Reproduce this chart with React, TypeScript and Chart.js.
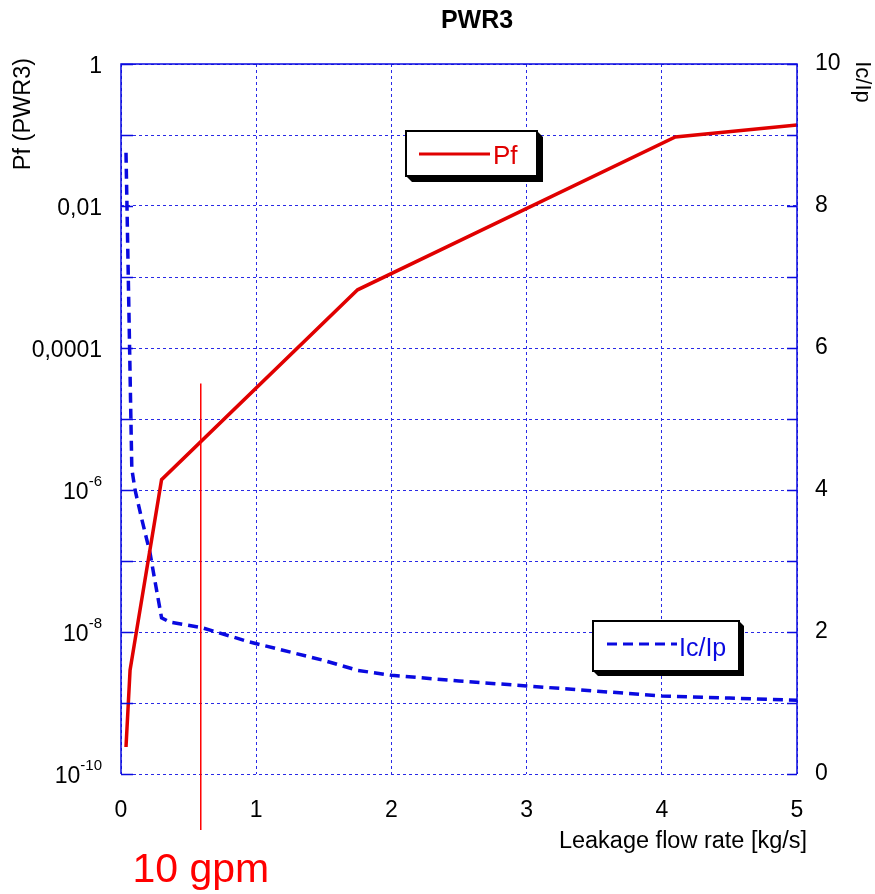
import React, { useEffect, useRef } from "react";
import { Chart, registerables } from "chart.js";

Chart.register(...registerables);

// ---------- data ----------
const chartTitle = "PWR3";
const xTitle = "Leakage flow rate [kg/s]";
const leftTitle = "Pf (PWR3)";
const rightTitle = "Ic/Ip";
const pfLabel = "Pf";
const icLabel = "Ic/Ip";
const gpmLabel = "10 gpm";

const pfFlow = [0.037, 0.067, 0.3, 1.75, 4.1, 5.0];
const pfValues = [2.4e-10, 2.9e-9, 1.4e-6, 6.6e-4, 0.094, 0.138];

const icFlow = [0.037, 0.08, 0.104, 0.155, 0.215, 0.25, 0.3, 0.36, 0.6, 0.95, 1.5, 1.75, 2.0, 2.5, 3.0, 3.5, 4.0, 4.5, 5.0];
const icValues = [8.75, 4.3, 4.0, 3.58, 3.11, 2.73, 2.2, 2.14, 2.06, 1.86, 1.6, 1.46, 1.39, 1.31, 1.24, 1.17, 1.1, 1.07, 1.04];

const gpmFlow = 0.59;
const gpmTop = 5.5; // on the Ic/Ip axis

const xTickValues = [0, 1, 2, 3, 4, 5];
const pfExponents = [-10, -9, -8, -7, -6, -5, -4, -3, -2, -1, 0];
const pfTickExponents = [0, -2, -4, -6, -8, -10];
const pfTickLabels = ["1", "0,01", "0,0001", "10^-6", "10^-8", "10^-10"];
const icTickValues = [0, 2, 4, 6, 8, 10];

// ---------- styles ----------
const FONT = "'Liberation Sans', Arial, Helvetica, sans-serif";
const RED = "#e00000";
const BLUE = "#0a0ae0";
const GRID = "#2a2ae6";

function legendBox(ctx: CanvasRenderingContext2D, x0: number, y0: number, x1: number, y1: number, d: number) {
  ctx.save();
  ctx.fillStyle = "#000";
  ctx.beginPath();
  ctx.moveTo(x0, y1);
  ctx.lineTo(x0 + d, y1 + d);
  ctx.lineTo(x1 + d, y1 + d);
  ctx.lineTo(x1 + d, y0 + d);
  ctx.lineTo(x1, y0);
  ctx.closePath();
  ctx.fill();
  ctx.fillStyle = "#fff";
  ctx.fillRect(x0, y0, x1 - x0, y1 - y0);
  ctx.strokeStyle = "#000";
  ctx.lineWidth = 2;
  ctx.strokeRect(x0, y0, x1 - x0, y1 - y0);
  ctx.restore();
}

const decorPlugin = {
  id: "decor",
  afterDraw(chart: any) {
    const ctx: CanvasRenderingContext2D = chart.ctx;
    const area = chart.chartArea;
    const xs = chart.scales.x;
    const ys = chart.scales.y;
    const y1s = chart.scales.y1;
    ctx.save();

    // plot frame (left, top, right solid)
    ctx.strokeStyle = BLUE;
    ctx.lineWidth = 1.5;
    ctx.setLineDash([]);
    ctx.beginPath();
    ctx.moveTo(area.left, area.bottom);
    ctx.lineTo(area.left, area.top);
    ctx.lineTo(area.right, area.top);
    ctx.lineTo(area.right, area.bottom);
    ctx.stroke();

    // short inner tick marks at each decade
    ctx.lineWidth = 1.5;
    pfExponents.forEach((e) => {
      const py = Math.round(ys.getPixelForValue(Math.pow(10, e))) + 0.5;
      ctx.beginPath();
      ctx.moveTo(area.left, py);
      ctx.lineTo(area.left + 12, py);
      ctx.moveTo(area.right - 10, py);
      ctx.lineTo(area.right, py);
      ctx.stroke();
    });

    // left tick labels with superscripts
    ctx.fillStyle = "#000";
    ctx.textAlign = "right";
    ctx.textBaseline = "alphabetic";
    const rightEdge = 102;
    pfTickExponents.forEach((e, i) => {
      const py = ys.getPixelForValue(Math.pow(10, e));
      const lab = pfTickLabels[i];
      if (lab.indexOf("^") >= 0) {
        const [base, sup] = lab.split("^");
        ctx.font = `15px ${FONT}`;
        const sw = ctx.measureText(sup).width;
        ctx.fillText(sup, rightEdge, py - 4);
        ctx.font = `23px ${FONT}`;
        ctx.fillText(base, rightEdge - sw, py + 9);
      } else {
        ctx.font = `23px ${FONT}`;
        ctx.fillText(lab, rightEdge, py + 9);
      }
    });

    // title
    ctx.textAlign = "center";
    ctx.font = `bold 25px ${FONT}`;
    ctx.fillText(chartTitle, 477, 28);

    // x title
    ctx.font = `23.5px ${FONT}`;
    ctx.fillText(xTitle, 683, 848);

    // left axis title
    ctx.save();
    ctx.translate(24, 114);
    ctx.rotate(-Math.PI / 2);
    ctx.textBaseline = "middle";
    ctx.font = `23.5px ${FONT}`;
    ctx.fillText(leftTitle, 0, 0);
    ctx.restore();

    // right axis title
    ctx.save();
    ctx.translate(862, 82);
    ctx.rotate(Math.PI / 2);
    ctx.textBaseline = "middle";
    ctx.font = `22px ${FONT}`;
    ctx.fillText(rightTitle, 0, 0);
    ctx.restore();

    // 10 gpm marker
    const gx = xs.getPixelForValue(gpmFlow);
    const gy = y1s.getPixelForValue(gpmTop);
    ctx.strokeStyle = "#ff0000";
    ctx.lineWidth = 1.5;
    ctx.beginPath();
    ctx.moveTo(gx, gy);
    ctx.lineTo(gx, area.bottom + 56);
    ctx.stroke();
    ctx.fillStyle = "#ff0000";
    ctx.font = `41px ${FONT}`;
    ctx.textAlign = "center";
    ctx.fillText(gpmLabel, gx, 882);

    // legend Pf
    legendBox(ctx, 406, 131, 537, 176, 6);
    ctx.strokeStyle = RED;
    ctx.lineWidth = 3;
    ctx.beginPath();
    ctx.moveTo(419, 154);
    ctx.lineTo(490, 154);
    ctx.stroke();
    ctx.fillStyle = RED;
    ctx.textAlign = "left";
    ctx.font = `26px ${FONT}`;
    ctx.fillText(pfLabel, 493, 164);

    // legend Ic/Ip
    legendBox(ctx, 593, 621, 739, 671, 5);
    ctx.strokeStyle = BLUE;
    ctx.lineWidth = 3;
    ctx.setLineDash([10, 6]);
    ctx.beginPath();
    ctx.moveTo(607, 644);
    ctx.lineTo(677, 644);
    ctx.stroke();
    ctx.setLineDash([]);
    ctx.fillStyle = BLUE;
    ctx.font = `25px ${FONT}`;
    ctx.fillText(icLabel, 679, 656);

    ctx.restore();
  },
};

export default function App() {
  const ref = useRef<HTMLCanvasElement | null>(null);

  useEffect(() => {
    document.body.style.margin = "0";
    const canvas = ref.current;
    if (!canvas) return;
    const tickFont = { family: FONT, size: 23 };
    const chart = new Chart(canvas, {
      type: "line",
      data: {
        datasets: [
          {
            label: pfLabel,
            data: pfFlow.map((x, i) => ({ x, y: pfValues[i] })),
            yAxisID: "y",
            borderColor: RED,
            backgroundColor: RED,
            borderWidth: 3.5,
            pointRadius: 0,
            tension: 0,
            fill: false,
          },
          {
            label: icLabel,
            data: icFlow.map((x, i) => ({ x, y: icValues[i] })),
            yAxisID: "y1",
            borderColor: BLUE,
            backgroundColor: BLUE,
            borderWidth: 3.5,
            borderDash: [10, 6],
            pointRadius: 0,
            tension: 0,
            fill: false,
          },
        ],
      },
      options: {
        animation: false,
        responsive: false,
        devicePixelRatio: 1,
        layout: { padding: { top: 64, left: 0, right: 0, bottom: 0 } },
        plugins: {
          legend: { display: false },
          tooltip: { enabled: false },
          title: { display: false },
        },
        scales: {
          x: {
            type: "linear",
            position: "bottom",
            min: 0,
            max: 5,
            afterBuildTicks: (s: any) => {
              s.ticks = xTickValues.map((v) => ({ value: v }));
            },
            ticks: { font: tickFont, color: "#000", padding: 23 },
            grid: { color: GRID, lineWidth: 1, drawTicks: false },
            border: { display: false, dash: [3, 3] },
            afterFit: (s: any) => {
              s.height = 120;
            },
          },
          y: {
            type: "logarithmic",
            position: "left",
            min: 1e-10,
            max: 1,
            afterBuildTicks: (s: any) => {
              s.ticks = pfExponents.map((e) => ({ value: Math.pow(10, e) }));
            },
            ticks: { display: false },
            grid: { color: GRID, lineWidth: 1, drawTicks: false },
            border: { display: false, dash: [3, 3] },
            afterFit: (s: any) => {
              s.width = 121;
            },
          },
          y1: {
            type: "linear",
            position: "right",
            min: 0,
            max: 10,
            afterBuildTicks: (s: any) => {
              s.ticks = icTickValues.map((v) => ({ value: v }));
            },
            ticks: { font: tickFont, color: "#000", padding: 18 },
            grid: { display: false, drawTicks: false },
            border: { display: false },
            afterFit: (s: any) => {
              s.width = 78;
            },
          },
        },
      } as any,
      plugins: [decorPlugin],
    });
    return () => chart.destroy();
  }, []);

  return (
    <div style={{ width: 875, height: 894 }}>
      <canvas ref={ref} width={875} height={894} style={{ display: "block", width: 875, height: 894 }} />
    </div>
  );
}
